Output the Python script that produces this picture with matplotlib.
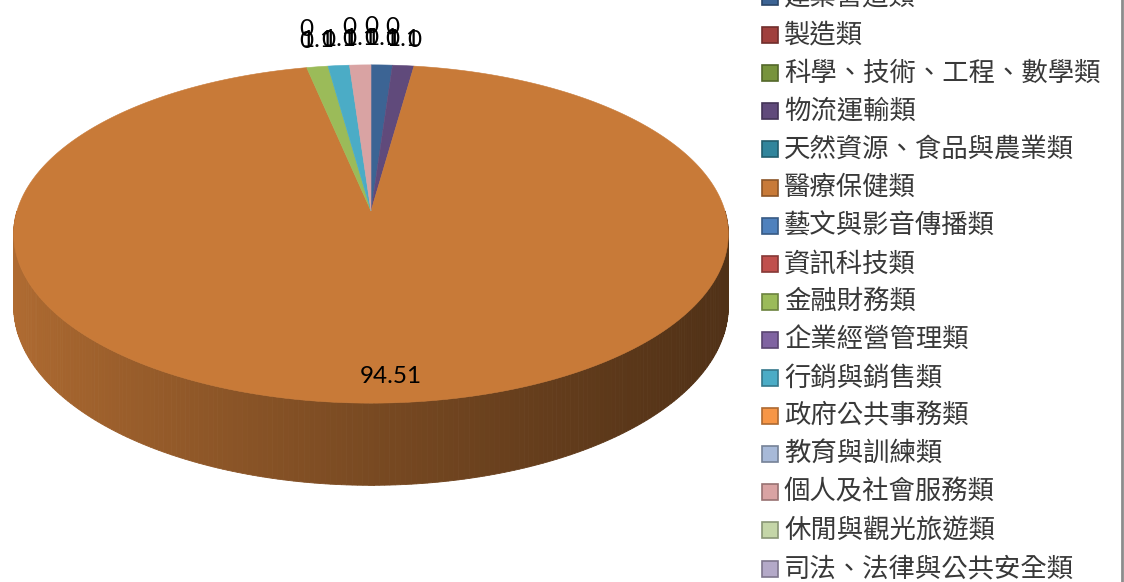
import numpy as np
import matplotlib.pyplot as plt
from matplotlib.patches import Polygon, Rectangle
import matplotlib.colors as mcolors

plt.rcParams['font.family'] = ['Noto Sans CJK TC', 'DejaVu Sans']

categories = ['建築營造類', '製造類', '科學、技術、工程、數學類', '物流運輸類',
              '天然資源、食品與農業類', '醫療保健類', '藝文與影音傳播類', '資訊科技類',
              '金融財務類', '企業經營管理類', '行銷與銷售類', '政府公共事務類',
              '教育與訓練類', '個人及社會服務類', '休閒與觀光旅遊類', '司法、法律與公共安全類']
values = [1.1, 0, 0, 1.1, 0, 94.51, 0, 0, 1.1, 0, 1.1, 0, 0, 1.1, 0, 0]
colors = ['#3c6494', '#a0403d', '#77933c', '#604a7b', '#31859c', '#c87a38',
          '#4f81bd', '#c0504d', '#9bbb59', '#8064a2', '#4bacc6', '#f79646',
          '#a7b9d8', '#d9a3a3', '#c5d6a8', '#b4a9c8']

fig = plt.figure(figsize=(11.24, 5.82), dpi=100)
ax = fig.add_axes([0, 0, 1, 1])
ax.set_xlim(0, 1124)
ax.set_ylim(582, 0)
ax.axis('off')

# 3d pie geometry (pixels): centre, radii, perspective, thickness
cx, cy, R, B, p, D = 371, 211, 354, 166, 0.136, 71


def proj(theta, r=1.0, depth=0.0):
    u = r * np.sin(theta)
    v = r * np.cos(theta)
    w = 1 + p * v
    return cx + R * u / w, cy - B * v / w + D * depth / w


def shade(c, x):
    t = np.clip((x - 13) / 715, 0, 1)
    f = 0.88 - 0.48 * t ** 0.8
    return tuple(np.array(mcolors.to_rgb(c)) * f)


frac = np.array(values) / sum(values)
bounds = np.concatenate([[0], np.cumsum(frac)]) * 2 * np.pi

# side walls (front half only)
for i, v in enumerate(values):
    if v <= 0:
        continue
    lo = max(bounds[i], np.pi / 2)
    hi = min(bounds[i + 1], 3 * np.pi / 2)
    if lo >= hi:
        continue
    ts = np.linspace(lo, hi, 240)
    for a, b in zip(ts[:-1], ts[1:]):
        x1, y1 = proj(a)
        x2, y2 = proj(b)
        x3, y3 = proj(b, depth=1)
        x4, y4 = proj(a, depth=1)
        col = shade(colors[i], (x1 + x2) / 2)
        ax.add_patch(Polygon([(x1, y1), (x2, y2), (x3, y3), (x4, y4)],
                             closed=True, facecolor=col, edgecolor=col, lw=0.6))

# top faces
for i, v in enumerate(values):
    if v <= 0:
        continue
    ts = np.linspace(bounds[i], bounds[i + 1], max(3, int(frac[i] * 720)))
    xs, ys = proj(ts)
    pts = [(cx, cy)] + list(zip(xs, ys))
    ax.add_patch(Polygon(pts, closed=True, facecolor=colors[i],
                         edgecolor=colors[i], lw=0.4))

# data labels
seen = {}
for i, v in enumerate(values):
    mid = (bounds[i] + bounds[i + 1]) / 2
    if frac[i] > 0.5:
        x, y = proj(mid, 0.88)
        x += 8
    else:
        x, y = proj(mid)
        key = round(mid, 4)
        y = y - 26 - 12 * seen.get(key, 0)
        seen[key] = seen.get(key, 0) + 1
    ax.text(x, y, f'{v:g}', ha='center', va='center', fontsize=17.5,
            family=['Lato', 'DejaVu Sans'], color='black')

# legend
for i, name in enumerate(categories):
    y = -3 + i * 38.1
    edge = tuple(np.array(mcolors.to_rgb(colors[i])) * 0.7)
    ax.add_patch(Rectangle((762, y - 8), 16, 16, facecolor=colors[i],
                           edgecolor=edge, lw=1.2))
    ax.text(784, y, name, va='center', ha='left', fontsize=19, color='#383838')

ax.plot([1122, 1122], [0, 582], color='#8c8c8c', lw=2)

fig.savefig('out.png', dpi=100)
